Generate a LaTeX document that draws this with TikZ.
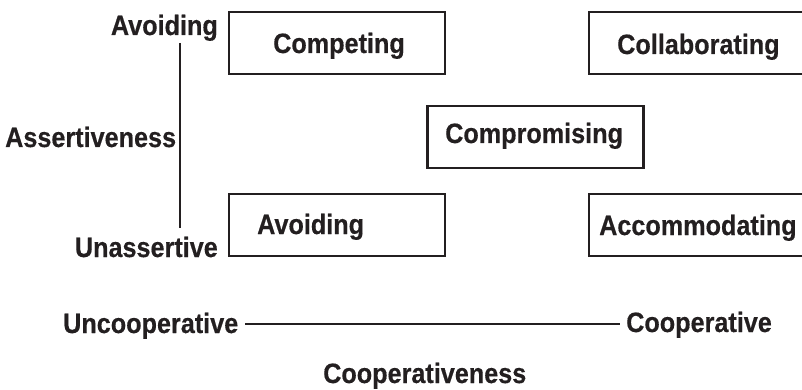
\documentclass[tikz,border=0pt]{standalone}
\usepackage{fontspec}
\setmainfont{Liberation Sans}[FakeStretch=0.9, BoldFeatures={FakeBold=0.4}]
\definecolor{ink}{HTML}{231F20}
\begin{document}
\begin{tikzpicture}[x=1pt,y=-1pt,
  box/.style={draw=ink, line width=2.3pt, rectangle, minimum width=216pt, minimum height=62pt, inner sep=0pt},
  txt/.style={inner sep=0pt, text=ink, font=\fontsize{28}{30}\selectfont\bfseries},
  axis/.style={draw=ink, line width=2pt}]
\useasboundingbox (0,0) rectangle (802,390);
% boxes
\node[box] (bcomp) at (337,43) {};
\node[box] (bcoll) at (697,43) {};
\node[box] (bcomr) at (535.5,137) {};
\node[box] (bavoid) at (337,225) {};
\node[box] (bacc) at (697,225) {};
% box texts
\node[txt, anchor=base west] (tcomp) at (273,53) {Competing};
\node[txt, anchor=base west] (tcoll) at (617,54) {Collaborating};
\node[txt, anchor=base west] (tcomr) at (445,143) {Compromising};
\node[txt, anchor=base west] (tavoid) at (257,234) {Avoiding};
\node[txt, anchor=base west] (tacc) at (599,235) {Accommodating};
% axis labels
\node[txt, anchor=base east] (ltop) at (218,35) {Avoiding};
\node[txt, anchor=base west] (lass) at (5,147) {Assertiveness};
\node[txt, anchor=base east] (lunass) at (218,257) {Unassertive};
\node[txt, anchor=base west] (lunc) at (63,333) {Uncooperative};
\node[txt, anchor=base west] (lcoop) at (626,332) {Cooperative};
\node[txt, anchor=base west] (lcoopness) at (323,383) {Cooperativeness};
% axes
\coordinate (vtop) at (180,43);
\coordinate (vbot) at (180,228);
\draw[axis] (vtop) -- (vbot);
\coordinate (hl) at (245,324);
\coordinate (hr) at (620,324);
\draw[axis] (hl) -- (hr);
\end{tikzpicture}
\end{document}
